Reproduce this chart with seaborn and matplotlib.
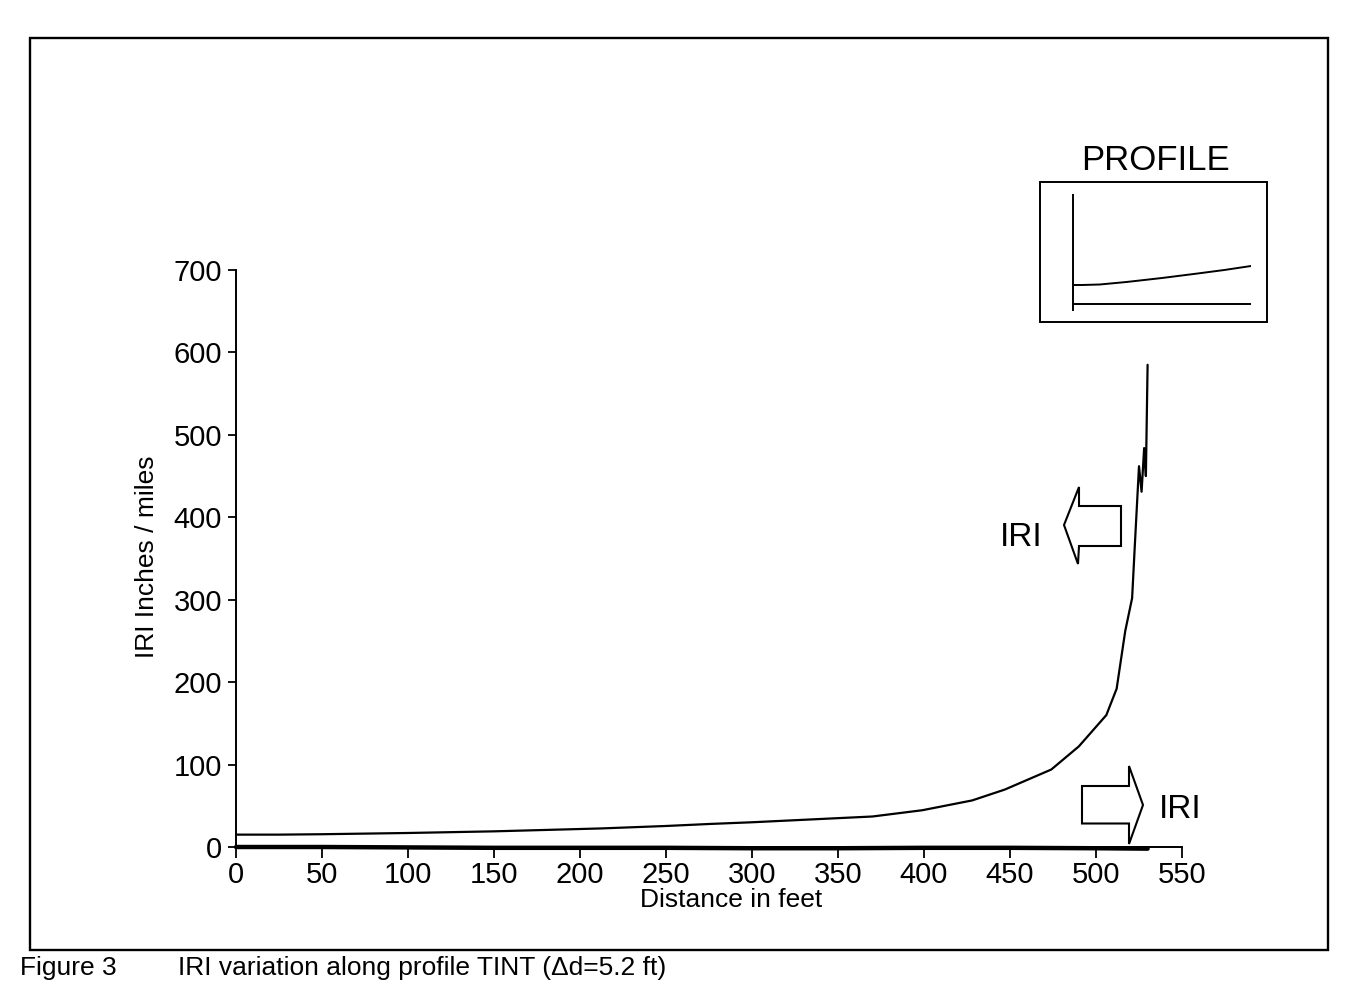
import matplotlib
matplotlib.use("Agg")
import matplotlib.pyplot as plt
import seaborn as sns
import pandas as pd
from matplotlib.patches import Rectangle, Polygon

# IRI computed along the profile (inches / mile) versus distance (ft)
distance_ft = [0, 25, 50, 100, 150, 212, 250, 276, 300, 350, 370, 399, 428, 447,
               474, 490, 506, 512, 517, 521, 522.5, 525, 526.5, 528, 529, 530]
iri_in_per_mi = [15, 15, 15.5, 17, 19, 22.5, 25.5, 28, 30, 35, 37, 44.6, 56.5, 69.7,
                 94, 122, 160, 192, 262, 302, 363, 462, 431, 484, 450, 585]

# Second trace lying along the baseline
base_ft = [0, 50, 100, 150, 200, 250, 300, 350, 400, 450, 500, 530]
base_vals = [0, 0, -0.5, -1, -1, -1, -1.5, -1.5, -1, -1, -1.5, -2]

# Thumbnail of the profile shape
thumb_x = [0, 0.05, 0.15, 0.3, 0.5, 0.7, 0.85, 1.0]
thumb_upper = [25, 25, 25.5, 28, 32, 36.5, 40, 44]
thumb_lower_x = [0, 1.0]
thumb_lower = [6, 6]

x_ticks = [0, 50, 100, 150, 200, 250, 300, 350, 400, 450, 500, 550]
y_ticks = [0, 100, 200, 300, 400, 500, 600, 700]

sns.set_theme(style="ticks", rc={
    "axes.edgecolor": "black", "xtick.color": "black", "ytick.color": "black",
    "text.color": "black", "axes.labelcolor": "black",
})
plt.rcParams["font.family"] = ["Liberation Sans", "DejaVu Sans"]

W, H = 1361, 988
fig = plt.figure(figsize=(W / 100, H / 100), dpi=100)
fig.patch.set_facecolor("white")


def px_box(l, t, r, b):
    return [l / W, 1 - b / H, (r - l) / W, (b - t) / H]


# Pixel-space layer for the frame, caption and annotations
ov = fig.add_axes([0, 0, 1, 1])
ov.set_xlim(0, W)
ov.set_ylim(H, 0)
ov.axis("off")

ov.add_patch(Rectangle((30, 38), 1298, 912, fill=False, lw=1.7, ec="black"))
ov.text(20, 968, "Figure 3", fontsize=19, ha="left", va="center")
ov.text(178, 968, "IRI variation along profile TINT (\u0394d=5.2 ft)",
        fontsize=19, ha="left", va="center")

# Main chart
df = pd.DataFrame({"distance": distance_ft, "iri": iri_in_per_mi})
df_base = pd.DataFrame({"distance": base_ft, "value": base_vals})

ax = fig.add_axes(px_box(236, 270, 1182, 847))
ax.set_facecolor("none")
sns.lineplot(data=df, x="distance", y="iri", ax=ax, color="black", lw=1.6,
             estimator=None, sort=False)
sns.lineplot(data=df_base, x="distance", y="value", ax=ax, color="black", lw=3.2,
             estimator=None, sort=False, clip_on=False)
ax.set_xlim(0, 550)
ax.set_ylim(0, 700)
ax.set_xticks(x_ticks)
ax.set_yticks(y_ticks)
sns.despine(ax=ax)
for s in ("left", "bottom"):
    ax.spines[s].set_linewidth(1.4)
ax.tick_params(axis="x", length=8, width=1.3, pad=2, labelsize=21)
ax.tick_params(axis="y", length=6, width=1.3, pad=4, labelsize=21)

ax.set_xlabel("Distance in feet", fontsize=19)
ax.xaxis.label.set_va("center")
ax.xaxis.set_label_coords(0.523, -0.092)
ax.set_ylabel("IRI Inches / miles", fontsize=19)
ax.yaxis.label.set_va("center")
ax.yaxis.set_label_coords(-0.094, 0.5026)

# Axis indicators
ov.add_patch(Polygon([(1064, 525), (1079, 487), (1079, 506), (1121, 506),
                      (1121, 546), (1079, 546), (1078, 564)],
                     closed=True, fill=False, lw=1.5, ec="black"))
ov.text(1021, 537, "IRI", fontsize=24, ha="center", va="center")
ov.add_patch(Polygon([(1082, 786), (1129, 786), (1129, 766), (1143, 805),
                      (1129, 844), (1129, 823.5), (1082, 823.5)],
                     closed=True, fill=False, lw=1.5, ec="black"))
ov.text(1180, 809, "IRI", fontsize=24, ha="center", va="center")

# Profile thumbnail
ov.add_patch(Rectangle((1040, 182), 227, 140, fill=False, lw=1.4, ec="black"))
ov.text(1155, 160, "PROFILE", fontsize=25, ha="center", va="center")

ins = fig.add_axes(px_box(1073, 195, 1251, 310))
ins.set_facecolor("none")
sns.lineplot(x=thumb_x, y=thumb_upper, ax=ins, color="black", lw=1.4,
             estimator=None, sort=False)
sns.lineplot(x=thumb_lower_x, y=thumb_lower, ax=ins, color="black", lw=1.4,
             estimator=None, sort=False)
ins.set_xlim(0, 1)
ins.set_ylim(0, 115)
for s in ("top", "right", "bottom"):
    ins.spines[s].set_visible(False)
ins.spines["left"].set_linewidth(1.4)
ins.set_xticks([])
ins.set_yticks([])
ins.set_xlabel("")
ins.set_ylabel("")

fig.savefig("out.png", dpi=100, facecolor="white")
